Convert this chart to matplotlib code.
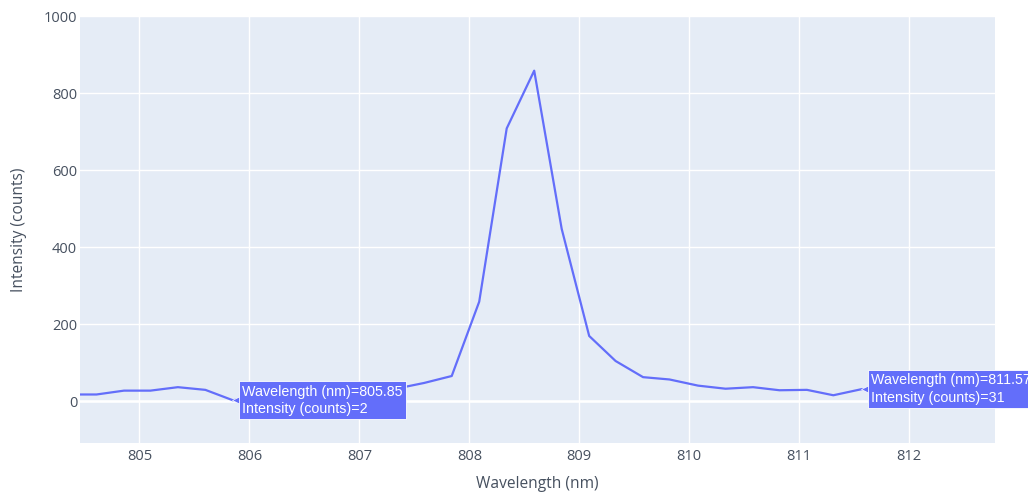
import matplotlib.pyplot as plt
import matplotlib.transforms as mtransforms

# spectrum samples around the 808.6 nm line
wavelength = [804.36, 804.61, 804.86, 805.10, 805.35, 805.60, 805.85, 806.10,
              806.35, 806.60, 806.85, 807.10, 807.35, 807.59, 807.84, 808.09,
              808.34, 808.59, 808.84, 809.09, 809.33, 809.58, 809.82, 810.08,
              810.33, 810.58, 810.82, 811.07, 811.31, 811.57, 811.82, 812.07,
              812.32, 812.57, 812.82]
intensity = [17, 17, 27, 27, 36, 29, 2, 12,
             20, 25, 28, 30, 33, 47, 65, 258,
             708, 858, 447, 169, 104, 62, 56, 40,
             32, 36, 28, 29, 15, 31, 30, 29,
             28, 30, 29]

hover_idx = [6, 29]
x_ticks = [805, 806, 807, 808, 809, 810, 811, 812]
y_ticks = [0, 200, 400, 600, 800, 1000]

line_color = '#636EFA'
text_color = '#46505f'

plt.rcParams['font.family'] = ['Open Sans', 'DejaVu Sans']

fig = plt.figure(figsize=(10.28, 4.96), dpi=100)
ax = fig.add_axes([80 / 1028, 53 / 496, 915 / 1028, 427 / 496])
ax.set_facecolor('#E5ECF6')
for s in ax.spines.values():
    s.set_visible(False)

ax.plot(wavelength, intensity, color=line_color, lw=1.6, zorder=3)

ax.set_xlim(804.46, 812.78)
ax.set_ylim(-109, 1000)
ax.set_xticks(x_ticks)
ax.set_yticks(y_ticks)
ax.grid(True, color='white', lw=1)
ax.axhline(0, color='white', lw=1.8, zorder=1)
ax.set_axisbelow(True)
ax.tick_params(axis='x', length=0, labelsize=10.5, colors=text_color, pad=4)
ax.tick_params(axis='y', length=0, labelsize=10.5, colors=text_color, pad=2)
ax.set_xlabel('Wavelength (nm)', fontsize=11.2, color=text_color, labelpad=9)
ax.set_ylabel('Intensity (counts)', fontsize=11.2, color=text_color, labelpad=12)

# hover boxes next to two samples
for i in hover_idx:
    x, y = wavelength[i], intensity[i]
    tip = mtransforms.offset_copy(ax.transData, fig=fig, x=3, y=0, units='dots')
    ax.plot([x], [y], marker='<', ms=6, color=line_color, mec='white', mew=0.5,
            transform=tip, clip_on=False, zorder=5)
    label = f'Wavelength (nm)={x:.2f}\nIntensity (counts)={y}'
    ax.annotate(label, xy=(x, y), xytext=(9, 0), textcoords='offset pixels',
                ha='left', va='center', fontsize=10.3, color='white',
                family=['Liberation Sans', 'DejaVu Sans'], linespacing=1.3,
                bbox=dict(boxstyle='square,pad=0.22', fc=line_color, ec='white', lw=0.6),
                annotation_clip=False, zorder=6)

fig.savefig('out.png', dpi=100)
